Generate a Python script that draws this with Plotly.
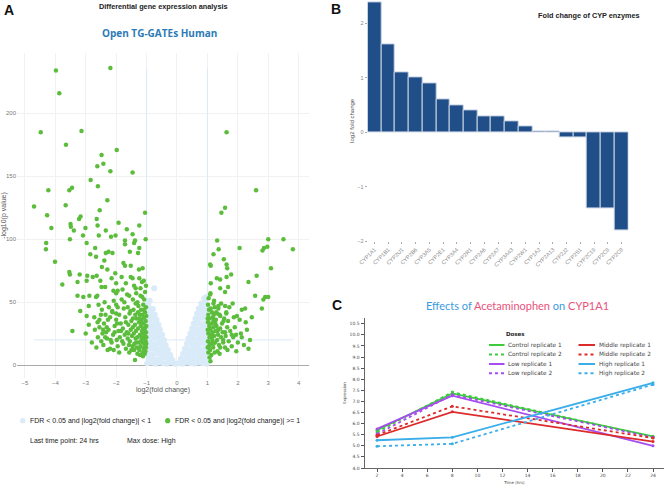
import plotly.graph_objects as go

W, H = 667, 485

# ---------------- panel A: volcano plot ----------------
# significant genes (FDR < 0.05 and |log2FC| >= 1): (log2 fold change, -log10 p value)
sig_left = [
    (-3.98, 234), (-3.87, 216), (-4.48, 185), (-3.14, 186), (-3.65, 175), (-1.98, 171),
    (-2.48, 167), (-2.62, 158), (-2.42, 160), (-2.19, 154), (-2.84, 147), (-2.6, 142),
    (-4.23, 139), (-3.54, 139), (-3.45, 141), (-2.29, 131), (-4.7, 126), (-3.66, 127),
    (-2.54, 123), (-4.27, 119), (-4.13, 109), (-3.17, 118), (-3.22, 116), (-3.5, 112),
    (-3.49, 110), (-3.39, 107), (-3.01, 109), (-2.64, 116), (-2.61, 111), (-2.34, 107),
    (-1.92, 113), (-3.09, 103), (-2.57, 103), (-2.17, 102), (-2.02, 103), (-4.3, 97),
    (-3.52, 100), (-2.97, 97), (-2.85, 88), (-2.66, 86), (-2.69, 93), (-2.34, 89),
    (-2.25, 90), (-2.12, 89), (-4.31, 92), (-4.01, 82), (-2.39, 83), (-2.47, 78),
    (-2.29, 76), (-3.54, 74), (-3.52, 72), (-3.2, 72), (-3.77, 64), (-3.27, 66),
    (-2.95, 71), (-2.97, 67), (-2.77, 70), (-2.64, 71), (-2.52, 67), (-2.48, 62),
    (-2.36, 62), (-2.15, 69), (-2.03, 73), (-3.27, 55), (-3.08, 54), (-2.88, 55),
    (-2.66, 54), (-3.18, 43), (-2.97, 39), (-2.9, 47), (-2.58, 48), (-2.62, 55),
    (-3.44, 27), (-2.72, 38), (-2.61, 34), (-2.5, 40), (-2.47, 44), (-2.49, 19),
    (-2.09, 59), (-2.0, 57), (-2.0, 48), (-2.0, 41), (-2.2, 38), (-2.31, 30),
    (-2.33, 26), (-2.36, 22), (-2.27, 36), (-2.19, 236),
    (-1.46, 153), (-1.05, 121), (-1.24, 111), (-1.65, 108), (-1.46, 104), (-1.03, 100),
    (-1.71, 99), (-1.38, 99), (-1.41, 97), (-1.71, 96), (-1.55, 90), (-1.24, 93),
    (-1.28, 89), (-1.76, 81), (-1.71, 79), (-1.52, 79), (-1.13, 77), (-1.25, 76),
    (-1.82, 70), (-1.52, 70), (-1.46, 69), (-1.24, 69), (-1.09, 67), (-2.0, 65),
    (-1.68, 65), (-1.95, 59), (-1.79, 60), (-1.41, 63), (-1.36, 61), (-1.2, 61),
    (-1.57, 55), (-1.14, 54), (-2.08, 51), (-1.73, 50), (-1.36, 49), (-2.13, 43),
    (-1.38, 4),
    (-1.02, 46), (-1.05, 42), (-1.08, 38), (-1.03, 35), (-1.1, 33), (-1.04, 30),
    (-1.07, 28), (-1.02, 26), (-1.12, 25), (-1.05, 23), (-1.09, 21), (-1.03, 19),
    (-1.14, 18), (-1.06, 16), (-1.02, 14), (-1.1, 13), (-1.04, 11), (-1.18, 44),
    (-1.22, 40), (-1.16, 36), (-1.25, 34), (-1.19, 31), (-1.28, 29), (-1.15, 27),
    (-1.22, 24), (-1.3, 22), (-1.17, 20), (-1.26, 18), (-1.2, 15), (-1.13, 10),
    (-1.24, 12), (-1.33, 37), (-1.38, 32), (-1.35, 27), (-1.42, 25), (-1.36, 21),
    (-1.4, 17), (-1.32, 14), (-1.45, 30), (-1.5, 35), (-1.48, 23), (-1.55, 19),
    (-1.52, 28), (-1.6, 32), (-1.58, 16), (-1.65, 26), (-1.62, 21), (-1.7, 38),
    (-1.72, 24), (-1.68, 13), (-1.78, 29), (-1.8, 19), (-1.85, 33), (-1.88, 22),
    (-1.92, 27), (-1.95, 15), (-2.05, 31), (-2.1, 24), (-2.15, 18), (-2.25, 28),
    (-2.3, 21), (-2.4, 33), (-2.45, 25), (-2.55, 30), (-1.11, 48), (-1.27, 47),
    (-1.43, 44), (-1.56, 41), (-1.62, 46), (-1.75, 45), (-1.9, 40), (-2.0, 36),
    (-1.08, 52), (-1.2, 55), (-1.3, 50), (-1.05, 58), (-1.45, 52), (-1.02, 63),
    (-1.15, 66), (-1.34, 57), (-1.64, 56), (-1.82, 52), (-1.12, 7), (-1.06, 9),
    (-1.3, 9), (-1.5, 12), (-1.9, 10), (-2.2, 13), (-1.01, 17), (-1.01, 22),
    (-1.01, 31), (-1.01, 39), (-1.09, 44), (-1.14, 40), (-1.23, 37), (-1.28, 42),
    (-1.37, 40), (-1.45, 37), (-1.53, 43), (-1.68, 34), (-1.76, 17), (-1.84, 27),
    (-1.98, 20), (-2.08, 12), (-1.57, 10), (-1.41, 12), (-1.22, 8), (-1.16, 22),
    (-1.11, 29), (-1.19, 34), (-1.34, 18), (-1.46, 15), (-1.6, 25), (-1.95, 46),
    (-2.35, 40), (-2.6, 22), (-2.7, 28), (-2.8, 18), (-2.9, 32), (-3.0, 25),
    (-2.65, 14), (-2.42, 16), (-2.28, 12), (-2.18, 20), (-2.05, 26), (-1.97, 33),
    (-2.12, 42), (-2.24, 46), (-2.38, 50), (-2.55, 36), (-2.43, 28),
]
sig_right = [
    (1.63, 185), (2.6, 139), (1.58, 125), (1.46, 121), (1.32, 99), (2.06, 93),
    (3.5, 100), (3.0, 100), (3.81, 92), (2.97, 94), (2.86, 93), (2.81, 91),
    (1.37, 92), (1.2, 88), (1.54, 84), (1.09, 80), (1.11, 79), (1.63, 80),
    (1.65, 77), (3.09, 77), (1.78, 72), (1.63, 70), (1.31, 69), (1.42, 68),
    (2.62, 71), (2.35, 66), (1.11, 65), (1.42, 61), (1.68, 62), (1.58, 58),
    (1.09, 56), (2.57, 55), (2.9, 54), (3.0, 54), (2.84, 52), (1.2, 49),
    (1.36, 47), (1.58, 47), (1.72, 46), (1.83, 49), (2.13, 44), (2.24, 45),
    (2.79, 45), (1.32, 41), (1.62, 41), (1.42, 39), (1.97, 39), (1.87, 38),
    (2.46, 38), (2.06, 36), (2.26, 34), (1.53, 35), (1.68, 35), (1.26, 33),
    (1.09, 29), (1.33, 27), (1.58, 26), (1.8, 24), (1.94, 24), (2.13, 22),
    (1.14, 22), (1.52, 20), (1.2, 17), (1.42, 14), (1.1, 3),
    (1.02, 48), (1.05, 44), (1.03, 40), (1.08, 37), (1.02, 34), (1.06, 31),
    (1.1, 28), (1.03, 25), (1.07, 22), (1.02, 19), (1.12, 17), (1.05, 15),
    (1.09, 12), (1.03, 10), (1.15, 42), (1.18, 38), (1.14, 33), (1.2, 30),
    (1.17, 26), (1.22, 23), (1.16, 20), (1.25, 18), (1.19, 14), (1.28, 36),
    (1.3, 31), (1.27, 27), (1.35, 24), (1.32, 20), (1.38, 16), (1.33, 11),
    (1.42, 29), (1.45, 22), (1.48, 33), (1.52, 18), (1.5, 26), (1.55, 37),
    (1.6, 23), (1.58, 14), (1.65, 30), (1.7, 19), (1.75, 27), (1.8, 15),
    (1.85, 22), (1.9, 30), (2.0, 18), (2.1, 25), (2.2, 16), (2.3, 28),
    (2.4, 20), (1.04, 53), (1.1, 57), (1.22, 51), (1.36, 45), (1.45, 49),
    (1.07, 6), (1.13, 8), (1.24, 10), (1.4, 9), (1.01, 28), (1.01, 37),
    (1.01, 14), (1.11, 45), (1.24, 46), (1.21, 40), (1.29, 42), (1.4, 40),
    (1.62, 42), (1.12, 24), (1.2, 35), (1.08, 17), (1.35, 28), (1.66, 12),
    (1.95, 11), (2.35, 13),
]
# FDR < 0.05 but |log2FC| < 1
ns_points = [
    (-0.98, 1.5), (-0.86, 2), (-0.72, 1), (-0.6, 2), (-0.46, 1.5), (-0.34, 1), (-0.2, 2), (-0.07, 1),
    (-0.93, 5), (-0.8, 5.5), (-0.67, 4.5), (-0.54, 5), (-0.41, 6), (-0.28, 4.5), (-0.15, 4),
    (-0.97, 9), (-0.84, 8.5), (-0.71, 9.5), (-0.58, 9), (-0.45, 8.5), (-0.33, 9), (-0.22, 8),
    (-0.92, 13), (-0.79, 13.5), (-0.66, 12.5), (-0.53, 13), (-0.41, 12), (-0.3, 12),
    (-0.96, 17), (-0.83, 17), (-0.7, 16.5), (-0.57, 17.5), (-0.46, 16), (-0.37, 16),
    (-0.91, 21), (-0.78, 21.5), (-0.65, 21), (-0.53, 20.5), (-0.43, 20),
    (-0.95, 25), (-0.82, 25), (-0.69, 25.5), (-0.58, 24.5), (-0.49, 24),
    (-0.9, 29), (-0.77, 29.5), (-0.66, 28.5), (-0.56, 28),
    (-0.94, 33), (-0.81, 33), (-0.7, 32.5), (-0.61, 32),
    (-0.89, 37), (-0.77, 37.5), (-0.67, 36),
    (-0.93, 41), (-0.82, 41), (-0.73, 40),
    (-0.88, 45), (-0.79, 44.5), (-0.95, 49), (-0.9, 51), (-0.75, 61),
    (0.06, 1.5), (0.19, 1), (0.32, 2), (0.45, 1.5), (0.58, 1), (0.71, 2), (0.84, 1.5), (0.97, 1),
    (0.13, 5), (0.26, 4.5), (0.39, 5.5), (0.52, 5), (0.65, 4.5), (0.78, 5.5), (0.91, 5),
    (0.2, 9), (0.33, 8.5), (0.46, 9.5), (0.59, 9), (0.72, 8.5), (0.85, 9), (0.97, 9.5),
    (0.26, 13), (0.39, 12.5), (0.52, 13.5), (0.65, 13), (0.78, 12.5), (0.91, 13),
    (0.33, 17), (0.45, 17.5), (0.58, 16.5), (0.71, 17), (0.84, 17.5), (0.96, 17),
    (0.38, 21), (0.51, 21), (0.64, 20.5), (0.77, 21.5), (0.9, 21),
    (0.44, 25), (0.57, 25.5), (0.7, 24.5), (0.83, 25), (0.95, 25.5),
    (0.5, 29), (0.62, 29), (0.75, 28.5), (0.88, 29.5),
    (0.55, 33), (0.68, 33.5), (0.81, 32.5), (0.94, 33),
    (0.61, 37), (0.73, 37), (0.86, 37.5), (0.98, 36.5),
    (0.66, 41), (0.79, 41.5), (0.92, 40.5),
    (0.72, 45), (0.84, 45), (0.96, 44.5),
    (0.8, 49), (0.92, 49.5), (0.9, 53), (0.97, 54),
]
fc_cutoff = [-1, 1]
p_cutoff = 20

# ---------------- panel B: CYP fold changes ----------------
cyp_names = ['CYP1A1', 'CYP1B1', 'CYP2U1', 'CYP2B6', 'CYP3A5', 'CYP2E1', 'CYP3A4',
             'CYP2R1', 'CYP2A6', 'CYP2A7', 'CYP3A43', 'CYP2W1', 'CYP1A2', 'CYP2A13',
             'CYP2J2', 'CYP2S1', 'CYP2C19', 'CYP2C9', 'CYP2C8']
cyp_log2fc = [2.39, 1.61, 1.1, 1.0, 0.9, 0.6, 0.5, 0.4, 0.3, 0.3, 0.2, 0.1,
              0.01, 0.01, -0.1, -0.1, -1.4, -1.4, -1.8]

# ---------------- panel C: CYP1A1 over time ----------------
time_hrs = [2, 8, 24]
control_rep1 = [5.70, 7.36, 5.43]
control_rep2 = [5.62, 7.42, 5.40]
low_rep1 = [5.76, 7.26, 5.00]
low_rep2 = [5.53, 7.30, 5.38]
middle_rep1 = [5.42, 6.53, 5.19]
middle_rep2 = [5.48, 6.78, 5.35]
high_rep1 = [5.25, 5.38, 7.84]
high_rep2 = [4.98, 5.09, 7.76]

dose_series = [
    ('Control replicate 1', control_rep1, '#3ccc3c', 'solid'),
    ('Control replicate 2', control_rep2, '#3ccc3c', 'dot'),
    ('Low replicate 1', low_rep1, '#a64cf0', 'solid'),
    ('Low replicate 2', low_rep2, '#a64cf0', 'dot'),
    ('Middle replicate 1', middle_rep1, '#dd2a2a', 'solid'),
    ('Middle replicate 2', middle_rep2, '#dd2a2a', 'dot'),
    ('High replicate 1', high_rep1, '#3aaeea', 'solid'),
    ('High replicate 2', high_rep2, '#3aaeea', 'dot'),
]


def fx(p):
    return p / W


def fy(p):
    return 1 - p / H


BLUE_NS = '#d9eaf8'
GREEN = '#5cbd3c'
sans = 'Liberation Sans'

fig = go.Figure()

# volcano
all_fc = [p[0] for p in sig_left + sig_right + ns_points]
all_p = [p[1] for p in sig_left + sig_right + ns_points]
fig.add_trace(go.Scatter(x=[min(all_fc), max(all_fc)], y=[p_cutoff, p_cutoff], mode='lines',
                         line=dict(color='#dbeaf8', width=1), hoverinfo='skip'))
fig.add_trace(go.Scatter(x=[fc_cutoff[0], fc_cutoff[0], None, fc_cutoff[1], fc_cutoff[1]],
                         y=[0, max(all_p), None, 0, max(all_p)], mode='lines',
                         line=dict(color='#dbeaf8', width=1), hoverinfo='skip'))
fig.add_trace(go.Scatter(x=[p[0] for p in ns_points], y=[p[1] for p in ns_points],
                         mode='markers', marker=dict(color=BLUE_NS, size=6)))
sig = sig_left + sig_right
fig.add_trace(go.Scatter(x=[p[0] for p in sig], y=[p[1] for p in sig],
                         mode='markers', marker=dict(color=GREEN, size=4.5)))

# bar chart
fig.add_trace(go.Bar(x=cyp_names, y=cyp_log2fc, xaxis='x2', yaxis='y2',
                     marker=dict(color='#1f4e89', line=dict(color='#c9d4e3', width=1))))

# time course
for name, vals, col, dash in dose_series:
    fig.add_trace(go.Scatter(x=time_hrs, y=vals, xaxis='x3', yaxis='y3', mode='lines+markers',
                             name=name, line=dict(color=col, width=1.8, dash=dash),
                             marker=dict(color=col, size=3)))

tickA = dict(family=sans, size=6, color='#777')
fig.update_layout(
    width=W, height=H, margin=dict(l=0, r=0, t=0, b=0),
    paper_bgcolor='white', plot_bgcolor='white', showlegend=False, bargap=0,
    xaxis=dict(domain=[fx(17), fx(309)], range=[-5.26, 4.34], anchor='y', automargin=False,
               tickvals=[-5, -4, -3, -2, -1, 0, 1, 2, 3, 4], showgrid=True, gridcolor='#f1f1f1',
               zeroline=False, showline=False, ticks='', tickfont=tickA,
               title=dict(text='log2(fold change)', font=dict(family=sans, size=7, color='#555'), standoff=1)),
    yaxis=dict(domain=[fy(378), fy(53)], range=[-10.3, 248], anchor='x', automargin=False,
               tickvals=[0, 50, 100, 150, 200], showgrid=True, gridcolor='#f1f1f1',
               zeroline=True, zerolinecolor='#aaaaaa', zerolinewidth=1, showline=False,
               ticks='', tickfont=tickA,
               title=dict(text='-log10(p value)', font=dict(family=sans, size=7, color='#555'), standoff=1)),
    xaxis2=dict(domain=[fx(367.7), fx(628.3)], range=[-0.5, 18.5], anchor='y2', automargin=False,
                tickangle=-45, ticks='outside', ticklen=2, tickcolor='#aaa',
                tickfont=dict(family=sans, size=5.5, color='#888'),
                showgrid=False, zeroline=False, showline=False),
    yaxis2=dict(domain=[fy(241.3), fy(0.4)], range=[-2.0, 2.42], anchor='x2', automargin=False,
                tickvals=[-2, -1, 0, 1, 2], ticks='outside', ticklen=2, tickcolor='#aaa',
                tickfont=dict(family=sans, size=5.5, color='#888'),
                showgrid=False, zeroline=False, showline=False,
                title=dict(text='log2 fold change', font=dict(family=sans, size=6, color='#555'), standoff=2)),
    xaxis3=dict(domain=[fx(364.5), fx(664.3)], range=[1.0, 24.9], anchor='y3', automargin=False,
                tick0=0, dtick=2, ticks='outside', ticklen=3, tickcolor='#555',
                showline=True, linecolor='#666', linewidth=1, showgrid=False, zeroline=False,
                tickfont=dict(family='DejaVu Sans', size=4.5, color='#444'),
                title=dict(text='Time (hrs)', font=dict(family='DejaVu Sans', size=4, color='#444'), standoff=3)),
    yaxis3=dict(domain=[fy(468), fy(318.2)], range=[4.0, 10.75], anchor='x3', automargin=False,
                tick0=4, dtick=0.5, tickformat='.1f', ticks='outside', ticklen=3, tickcolor='#555',
                showline=True, linecolor='#666', linewidth=1, showgrid=False, zeroline=False,
                tickfont=dict(family='DejaVu Sans', size=4.5, color='#444'),
                title=dict(text='Expression', font=dict(family='DejaVu Sans', size=4, color='#444'), standoff=3)),
)

ann = []
shapes = []


def text(x, y, s, size, color='#222', family=sans, xanchor='center'):
    ann.append(dict(x=fx(x), y=fy(y), xref='paper', yref='paper', text=s, showarrow=False,
                    xanchor=xanchor, yanchor='middle',
                    font=dict(family=family, size=size, color=color)))


# panel letters and titles
text(9, 10, '<b>A</b>', 14, '#111')
text(336, 9, '<b>B</b>', 14, '#111')
text(337, 305, '<b>C</b>', 14, '#111')
text(163, 7, '<b>Differential gene expression analysis</b>', 7.3)
text(159, 33, '<b>Open TG-GATEs Human</b>', 10, '#2c7bb6', 'Open Sans')
text(589, 15.7, '<b>Fold change of CYP enzymes</b>', 7.3)
text(517, 305,
     "<span style='color:#3a9be0'>Effects of </span><span style='color:#e9527c'>Acetaminophen</span>"
     "<span style='color:#3a9be0'> on </span><span style='color:#e9527c'>CYP1A1</span>",
     11, family='Lato')

# panel A legend and notes
for cx, col in [(22.7, BLUE_NS), (167.7, GREEN)]:
    shapes.append(dict(type='circle', xref='paper', yref='paper', xsizemode='pixel', ysizemode='pixel',
                       xanchor=fx(cx), yanchor=fy(420.7), x0=-2.6, x1=2.6, y0=-2.6, y1=2.6,
                       fillcolor=col, line=dict(width=0)))
text(28, 420.7, 'FDR &lt; 0.05 and |log2(fold change)| &lt; 1', 7, xanchor='left')
text(173, 420.7, 'FDR &lt; 0.05 and |log2(fold change)| &gt;= 1', 7, xanchor='left')
text(28, 440.7, 'Last time point: 24 hrs', 7, xanchor='left')
text(125, 440.7, 'Max dose: High', 7, xanchor='left')

# panel C legend
text(515.5, 334.3, '<b>Doses</b>', 5.5, '#222', 'DejaVu Sans')
rows = [345, 354.5, 364, 373.3]
for i, (name, vals, col, dash) in enumerate(dose_series):
    colx = 0 if i < 4 else 1
    ry = rows[i % 4]
    x0, x1, tx = (489, 504.5, 506) if colx == 0 else (578.5, 595, 596.7)
    shapes.append(dict(type='line', xref='paper', yref='paper', x0=fx(x0), x1=fx(x1), y0=fy(ry), y1=fy(ry),
                       line=dict(color=col, width=2, dash=dash)))
    text(tx, ry, name, 5.8, '#444', 'DejaVu Sans', xanchor='left')

fig.update_layout(annotations=ann, shapes=shapes)
# page body has a default margin; remove it so the figure sits at the window origin
fig.write_html("out.html", config={'displayModeBar': False},
               post_script="document.body.style.margin='0';document.body.style.overflow='hidden';")
